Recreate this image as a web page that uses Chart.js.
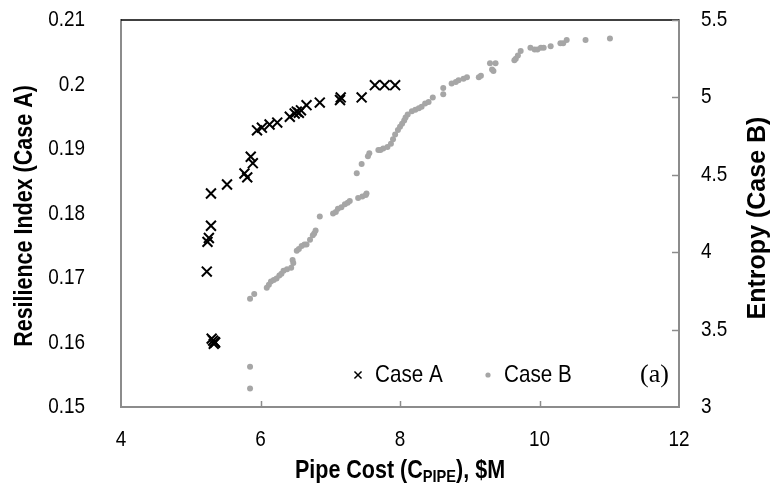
<!DOCTYPE html>
<html lang="en">
<head>
    <meta charset="UTF-8">
    <title>Pipe Cost vs Resilience / Entropy</title>
    <script src="https://cdn.jsdelivr.net/npm/chart.js"></script>
    <style>
        html, body { margin: 0; padding: 0; background: #fff; }
        #wrap { width: 781px; height: 499px; }
    </style>
</head>
<body>
    <div id="wrap"><canvas id="costChart"></canvas></div>

    <script>
        // Case A: pipe cost ($M) vs resilience index
        const caseACost = [5.23, 5.24, 5.26, 5.29, 5.29, 5.30, 5.32, 5.34, 5.33, 5.35,
            5.52, 5.77, 5.81, 5.86, 5.89, 5.95, 6.02, 6.13, 6.24, 6.42, 6.49, 6.52,
            6.55, 6.58, 6.66, 6.85, 7.14, 7.15, 7.45, 7.64, 7.78, 7.93];
        const caseAResilience = [0.1710, 0.1756, 0.1762, 0.1781, 0.1831, 0.1606, 0.1603, 0.1601, 0.1598, 0.1600,
            0.1845, 0.1862, 0.1856, 0.1888, 0.1878, 0.1929, 0.1933, 0.1938, 0.1941, 0.1950, 0.1955, 0.1958,
            0.1956, 0.1960, 0.1968, 0.1972, 0.1976, 0.1980, 0.1980, 0.1999, 0.1999, 0.1999];

        // Case B: pipe cost ($M) vs entropy
        const caseBCost = [5.85, 5.85, 5.85, 5.91, 6.09, 6.12, 6.15, 6.19, 6.23, 6.27, 6.30, 6.33,
            6.38, 6.44, 6.46, 6.47, 6.52, 6.55, 6.59, 6.63, 6.66, 6.71, 6.75, 6.77, 6.79, 6.85,
            7.04, 7.08, 7.11, 7.16, 7.21, 7.25, 7.28, 7.40, 7.46, 7.52, 7.51, 7.38, 7.45, 7.56,
            7.54, 7.69, 7.72, 7.76, 7.82, 7.87, 7.90, 7.93, 7.97, 8.00, 8.03, 8.06, 8.08, 8.11,
            8.17, 8.22, 8.27, 8.31, 8.36, 8.41, 8.47, 8.62, 8.62, 8.74, 8.80, 8.84, 8.91, 8.96,
            9.13, 9.16, 9.32, 9.34, 9.29, 9.37, 9.64, 9.66, 9.69, 9.73, 9.87, 9.93, 9.97, 10.02,
            10.06, 10.16, 10.30, 10.34, 10.39, 10.66, 11.01];
        const caseBEntropy = [3.12, 3.26, 3.70, 3.73, 3.77, 3.79, 3.81, 3.82, 3.83, 3.85, 3.86, 3.88,
            3.89, 3.90, 3.95, 3.93, 4.01, 4.02, 4.04, 4.05, 4.05, 4.08, 4.11, 4.12, 4.14, 4.23,
            4.25, 4.26, 4.28, 4.29, 4.31, 4.32, 4.33, 4.35, 4.36, 4.38, 4.37, 4.51, 4.57, 4.64,
            4.62, 4.66, 4.66, 4.67, 4.68, 4.70, 4.73, 4.76, 4.79, 4.81, 4.83, 4.85, 4.87, 4.89,
            4.91, 4.92, 4.93, 4.94, 4.96, 4.97, 5.00, 5.02, 5.06, 5.09, 5.10, 5.11, 5.12, 5.13,
            5.13, 5.14, 5.18, 5.17, 5.22, 5.22, 5.24, 5.25, 5.27, 5.30, 5.32, 5.31, 5.31, 5.32,
            5.32, 5.33, 5.35, 5.35, 5.37, 5.37, 5.38];

        const xTicks = [4, 6, 8, 10, 12];
        const leftTicks = [0.15, 0.16, 0.17, 0.18, 0.19, 0.2, 0.21];
        const rightTicks = [3, 3.5, 4, 4.5, 5, 5.5];

        const seriesNames = ['Case A', 'Case B'];

        const FONT = '"Liberation Sans", Arial, sans-serif';
        const NARROW = 0.86;   // squeeze Liberation Sans towards Arial Narrow
        const AXIS_GREY = '#8c8c8c';
        const DOT_GREY = '#a6a6a6';

        const fmt = v => String(Number(v.toFixed(2)));

        function squeezedText(ctx, text, x, y, k, align, angle) {
            ctx.save();
            ctx.translate(x, y);
            if (angle) ctx.rotate(angle);
            ctx.scale(k, 1);
            ctx.textAlign = align;
            ctx.fillText(text, 0, 0);
            ctx.restore();
        }

        // frame, inside ticks, tick labels, legend and axis titles
        const decorations = {
            id: 'decorations',
            afterDraw(chart) {
                const ctx = chart.ctx;
                const a = chart.chartArea;
                const sx = chart.scales.x, sy = chart.scales.y, sy2 = chart.scales.y2;
                ctx.save();

                // top border
                ctx.strokeStyle = '#000';
                ctx.lineWidth = 1.5;
                ctx.beginPath();
                ctx.moveTo(a.left, a.top);
                ctx.lineTo(a.right, a.top);
                ctx.stroke();

                // tick marks pointing into the plot
                ctx.strokeStyle = AXIS_GREY;
                ctx.lineWidth = 1.5;
                sx.ticks.slice(1, -1).forEach(t => {
                    const px = Math.round(sx.getPixelForValue(t.value)) + 0.5;
                    ctx.beginPath();
                    ctx.moveTo(px, a.bottom);
                    ctx.lineTo(px, a.bottom - 6);
                    ctx.stroke();
                });
                sy2.ticks.slice(1).forEach(t => {
                    const py = Math.round(sy2.getPixelForValue(t.value)) + 0.5;
                    ctx.beginPath();
                    ctx.moveTo(a.right, py);
                    ctx.lineTo(a.right - 7, py);
                    ctx.stroke();
                });

                // tick labels
                ctx.fillStyle = '#000';
                ctx.textBaseline = 'middle';
                ctx.font = '22px ' + FONT;
                sx.ticks.forEach(t => {
                    squeezedText(ctx, fmt(t.value), sx.getPixelForValue(t.value), 440, NARROW, 'center');
                });
                sy.ticks.forEach(t => {
                    squeezedText(ctx, fmt(t.value), 85, sy.getPixelForValue(t.value), NARROW, 'right');
                });
                sy2.ticks.forEach(t => {
                    squeezedText(ctx, fmt(t.value), 701, sy2.getPixelForValue(t.value), NARROW, 'left');
                });

                // legend
                const ly = 375;
                ctx.strokeStyle = '#000';
                ctx.fillStyle = '#000';
                Chart.helpers.drawPoint(ctx, {
                    pointStyle: 'crossRot', radius: 5, borderWidth: 1.6
                }, 358, ly);
                ctx.fillStyle = DOT_GREY;
                ctx.beginPath();
                ctx.arc(488, ly, 2.6, 0, Math.PI * 2);
                ctx.fill();
                ctx.fillStyle = '#000';
                ctx.font = '24px ' + FONT;
                squeezedText(ctx, seriesNames[0], 375, ly, NARROW, 'left');
                squeezedText(ctx, seriesNames[1], 504, ly, NARROW, 'left');
                ctx.font = '26px "Liberation Serif", "Times New Roman", serif';
                ctx.textAlign = 'left';
                ctx.fillText('(a)', 640, ly);

                // x axis title with subscript
                ctx.textBaseline = 'alphabetic';
                const p1 = 'Pipe Cost (C', p2 = 'PIPE', p3 = '), $M';
                ctx.font = 'bold 25px ' + FONT;
                const w1 = ctx.measureText(p1).width * NARROW;
                const w3 = ctx.measureText(p3).width * NARROW;
                ctx.font = 'bold 17px ' + FONT;
                const w2 = ctx.measureText(p2).width * NARROW;
                let tx = (a.left + a.right) / 2 - (w1 + w2 + w3) / 2;
                const base = 478;
                ctx.font = 'bold 25px ' + FONT;
                squeezedText(ctx, p1, tx, base, NARROW, 'left');
                tx += w1;
                ctx.font = 'bold 17px ' + FONT;
                squeezedText(ctx, p2, tx, base + 4, NARROW, 'left');
                tx += w2;
                ctx.font = 'bold 25px ' + FONT;
                squeezedText(ctx, p3, tx, base, NARROW, 'left');

                // y axis titles
                ctx.textBaseline = 'middle';
                squeezedText(ctx, 'Resilience Index (Case A)', 25, 216, NARROW, 'center', -Math.PI / 2);
                ctx.font = 'bold 25px ' + FONT;
                squeezedText(ctx, 'Entropy (Case B)', 758, 218, 1.0, 'center', -Math.PI / 2);
                ctx.restore();
            }
        };

        new Chart(document.getElementById('costChart'), {
            type: 'scatter',
            data: {
                datasets: [{
                    label: seriesNames[0],
                    data: caseACost.map((c, i) => ({ x: c, y: caseAResilience[i] })),
                    yAxisID: 'y',
                    pointStyle: 'crossRot',
                    pointRadius: 7,
                    pointBorderWidth: 2,
                    borderColor: '#000',
                    backgroundColor: '#000'
                }, {
                    label: seriesNames[1],
                    data: caseBCost.map((c, i) => ({ x: c, y: caseBEntropy[i] })),
                    yAxisID: 'y2',
                    pointStyle: 'circle',
                    pointRadius: 3,
                    pointBorderWidth: 0,
                    borderColor: DOT_GREY,
                    backgroundColor: DOT_GREY
                }]
            },
            options: {
                responsive: true,
                maintainAspectRatio: false,
                animation: false,
                layout: { padding: { top: 20, left: 0, right: 0, bottom: 0 } },
                plugins: {
                    legend: { display: false },
                    tooltip: { enabled: false }
                },
                scales: {
                    x: {
                        type: 'linear',
                        min: 4, max: 12,
                        afterBuildTicks: s => { s.ticks = xTicks.map(v => ({ value: v })); },
                        afterFit: s => { s.height = 92; },
                        grid: { display: false, drawTicks: false },
                        border: { display: true, color: AXIS_GREY, width: 2 },
                        ticks: { display: false }
                    },
                    y: {
                        type: 'linear',
                        position: 'left',
                        min: 0.15, max: 0.21,
                        afterBuildTicks: s => { s.ticks = leftTicks.map(v => ({ value: v })); },
                        afterFit: s => { s.width = 121; },
                        grid: { display: false, drawTicks: false },
                        border: { display: true, color: AXIS_GREY, width: 2 },
                        ticks: { display: false }
                    },
                    y2: {
                        type: 'linear',
                        position: 'right',
                        min: 3, max: 5.5,
                        afterBuildTicks: s => { s.ticks = rightTicks.map(v => ({ value: v })); },
                        afterFit: s => { s.width = 102; },
                        grid: { display: false, drawTicks: false },
                        border: { display: true, color: AXIS_GREY, width: 2 },
                        ticks: { display: false }
                    }
                }
            },
            plugins: [decorations]
        });
    </script>
</body>
</html>
